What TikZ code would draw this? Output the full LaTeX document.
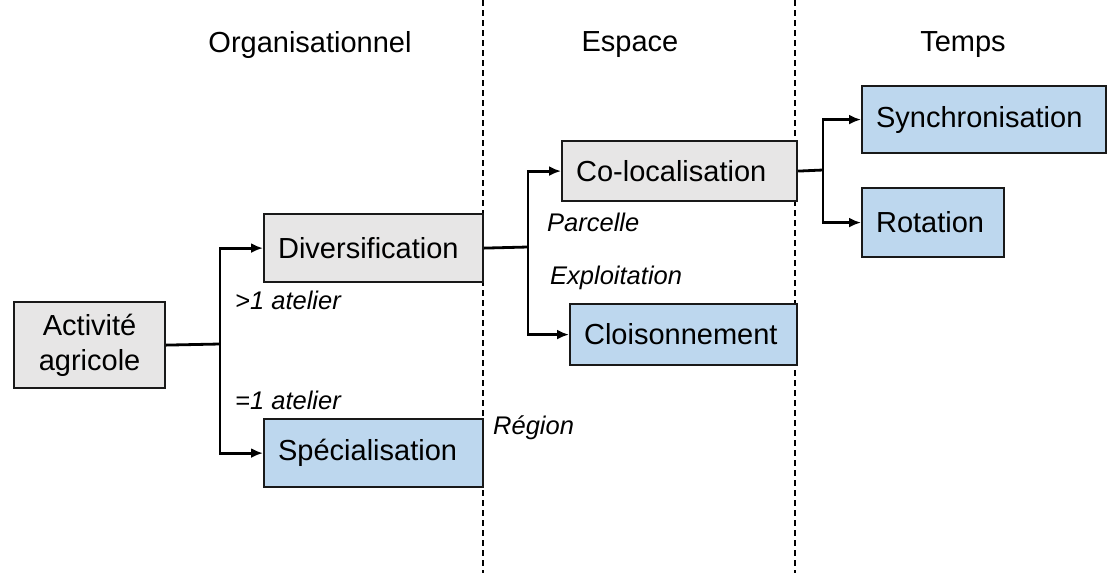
\documentclass[tikz,border=0pt]{standalone}
\usepackage{fontspec}
\setmainfont{Liberation Sans}
\usepackage{tikz}
\usetikzlibrary{arrows,arrows.meta,positioning}
\definecolor{gris}{HTML}{E7E6E6}
\definecolor{bleu}{HTML}{BDD7EE}
\newcommand{\grand}{\fontsize{29}{35}\selectfont}
\newcommand{\petit}{\fontsize{25.5}{30}\selectfont\itshape}

\begin{document}
\begin{tikzpicture}[x=1pt,y=-1pt]
\tikzstyle{boite}=[draw=black!90,line width=2.2pt,inner xsep=14pt,inner ysep=0pt,align=left,anchor=north west,font=\grand]
\tikzstyle{gboite}=[boite,fill=gris]
\tikzstyle{bboite}=[boite,fill=bleu]
\tikzstyle{etiq}=[anchor=west,inner sep=0pt,font=\petit]
\tikzstyle{titre}=[font=\grand]
\tikzstyle{lien}=[line width=2.8pt]
\tikzstyle{fleche}=[lien,-{Latex[length=12pt,width=10pt]}]
\tikzstyle{limite}=[line width=1.6pt,dash pattern=on 6pt off 4pt]
\useasboundingbox (0,0) rectangle (1110,573);
% colonnes
\draw[limite] (483,0) -- (483,573);
\draw[limite] (795,0) -- (795,573);
\node[titre] (torga) at (310,45) {Organisationnel};
\node[titre] (tesp) at (630,45) {Espace};
\node[titre] (ttps) at (963,45) {Temps};
% boites
\node[gboite,align=center,text width=123pt,minimum height=86pt] (agri) at (13,301) {Activité\\agricole};
\node[gboite,text width=191pt,minimum height=68pt] (div) at (263,213) {Diversification};
\node[bboite,text width=191pt,minimum height=68pt] (spe) at (263,418) {Spécialisation};
\node[gboite,text width=207pt,minimum height=60pt] (coloc) at (561,140) {Co-localisation};
\node[bboite,text width=199pt,minimum height=61pt] (cloi) at (569,303) {Cloisonnement};
\node[bboite,text width=216pt,minimum height=67pt] (sync) at (861,85) {Synchronisation};
\node[bboite,text width=114pt,minimum height=69pt] (rot) at (861,187) {Rotation};
% liens
\coordinate (b1) at (220,344);
\coordinate (b2) at (528,247);
\coordinate (b3) at (823,170);
\draw[lien] (agri.east) -- (b1);
\draw[fleche] (b1) |- (div.west);
\draw[fleche] (b1) |- (spe.west);
\draw[lien] (div.east) -- (b2);
\draw[fleche] (b2) |- (coloc.west);
\draw[fleche] (b2) |- (cloi.west);
\draw[lien] (coloc.east) -- (b3);
\draw[fleche] (b3) |- (sync.west);
\draw[fleche] (b3) |- (rot.west);
% etiquettes
\node[etiq] (plus) at (235,300) {>1 atelier};
\node[etiq] (egal) at (235,400) {=1 atelier};
\node[etiq] (parc) at (547,222) {Parcelle};
\node[etiq] (expl) at (550,278) {Exploitation};
\node[etiq] (reg) at (493,428) {Région};
\end{tikzpicture}
\end{document}
